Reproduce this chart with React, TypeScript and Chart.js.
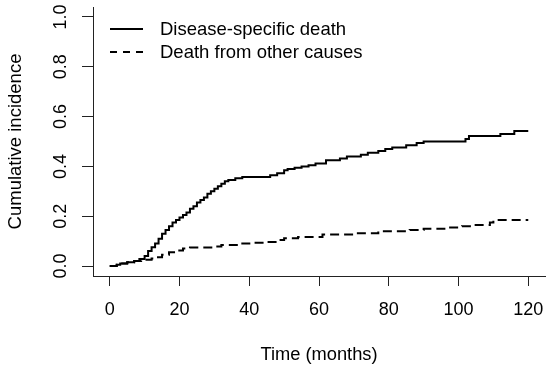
import React, { useEffect, useRef } from "react";
import { Chart, registerables } from "chart.js";

Chart.register(...registerables);

const FONT = "'Liberation Sans', Arial, Helvetica, sans-serif";

// Axis ticks
const xTicks = [0, 20, 40, 60, 80, 100, 120];
const yTicks = [0, 0.2, 0.4, 0.6, 0.8, 1.0];

// Series labels
const seriesLabels = ["Disease-specific death", "Death from other causes"];

// Disease-specific death: step times (months) and cumulative incidence
const dsTimes = [
  0, 2, 3, 5, 7, 8.5, 10, 11, 12, 13, 14, 15, 16, 17, 18, 19, 20, 21, 22, 23, 24,
  25, 26, 27, 28, 29, 30, 31, 32, 33, 34, 36, 38, 46, 48, 50, 51, 53, 55, 57, 59,
  62, 66, 68, 72, 74, 77, 79, 81, 85, 88, 90, 102, 103, 112, 116, 120,
];
const dsValues = [
  0, 0.005, 0.01, 0.015, 0.02, 0.028, 0.04, 0.06, 0.075, 0.09, 0.11, 0.13, 0.145,
  0.16, 0.175, 0.185, 0.195, 0.205, 0.215, 0.23, 0.24, 0.255, 0.265, 0.275, 0.29,
  0.3, 0.31, 0.32, 0.33, 0.34, 0.345, 0.352, 0.357, 0.365, 0.373, 0.385, 0.39,
  0.395, 0.4, 0.405, 0.412, 0.425, 0.432, 0.44, 0.447, 0.455, 0.462, 0.47, 0.476,
  0.485, 0.494, 0.5, 0.51, 0.522, 0.53, 0.542, 0.542,
];

// Death from other causes: step times (months) and cumulative incidence
const ocTimes = [
  0, 2, 3, 5, 7, 9, 12, 13, 15, 17, 19, 21, 23, 30, 32, 37, 41, 45, 48, 50, 54, 61,
  70, 77, 86, 90, 97, 101, 104, 109, 110, 120,
];
const ocValues = [
  0, 0.005, 0.01, 0.015, 0.02, 0.025, 0.03, 0.035, 0.045, 0.055, 0.062, 0.07,
  0.074, 0.078, 0.084, 0.09, 0.093, 0.097, 0.105, 0.112, 0.117, 0.127, 0.132,
  0.14, 0.145, 0.15, 0.155, 0.16, 0.165, 0.175, 0.185, 0.185,
];

const toPoints = (t: number[], v: number[]) => t.map((x, i) => ({ x, y: v[i] }));

const legendPlugin = {
  id: "rLegend",
  afterDraw(chart: any) {
    const ctx = chart.ctx;
    ctx.save();
    const rows = [
      { y: 29, dash: [] as number[] },
      { y: 52, dash: [7, 6] },
    ];
    rows.forEach((r, i) => {
      ctx.beginPath();
      ctx.setLineDash(r.dash);
      ctx.lineWidth = 2;
      ctx.strokeStyle = "#000";
      ctx.moveTo(110, r.y);
      ctx.lineTo(143, r.y);
      ctx.stroke();
      ctx.setLineDash([]);
      ctx.fillStyle = "#000";
      ctx.font = `18.5px ${FONT}`;
      ctx.textAlign = "left";
      ctx.textBaseline = "middle";
      ctx.fillText(chart.data.datasets[i].label, 160, r.y + 1);
    });
    ctx.restore();
  },
};

export default function App() {
  const ref = useRef<HTMLCanvasElement | null>(null);
  useEffect(() => {
    if (!ref.current) return;
    const chart = new Chart(ref.current, {
      type: "line",
      data: {
        datasets: [
          {
            label: seriesLabels[0],
            data: toPoints(dsTimes, dsValues),
            borderColor: "#000",
            borderWidth: 2,
            pointRadius: 0,
            stepped: true,
            fill: false,
          },
          {
            label: seriesLabels[1],
            data: toPoints(ocTimes, ocValues),
            borderColor: "#000",
            borderWidth: 2,
            borderDash: [9, 5],
            pointRadius: 0,
            stepped: true,
            fill: false,
          },
        ],
      },
      options: {
        animation: false,
        responsive: false,
        layout: { padding: { top: 7, right: 5, left: 0, bottom: 0 } },
        plugins: { legend: { display: false }, tooltip: { enabled: false } },
        scales: {
          x: {
            type: "linear",
            min: -4.8,
            max: 124.8,
            afterBuildTicks: (scale: any) => {
              scale.ticks = xTicks.map((value) => ({ value }));
            },
            afterFit: (scale: any) => {
              scale.height = 94;
              scale.paddingLeft = 0;
              scale.paddingRight = 0;
            },
            grid: {
              drawOnChartArea: false,
              drawTicks: true,
              tickLength: 10,
              tickColor: "#222",
              tickWidth: 1,
            },
            border: { display: true, color: "#222", width: 1 },
            ticks: {
              color: "#000",
              font: { family: FONT, size: 18 },
              padding: 13,
              maxRotation: 0,
              callback: (v: any) => String(v),
            },
            title: {
              display: true,
              text: "Time (months)",
              color: "#000",
              font: { family: FONT, size: 18.3 },
              padding: { top: 0, bottom: 4 },
            },
          },
          y: {
            type: "linear",
            min: -0.04,
            max: 1.04,
            afterBuildTicks: (scale: any) => {
              scale.ticks = yTicks.map((value) => ({ value }));
            },
            afterFit: (scale: any) => {
              scale.width = 93;
              scale.paddingTop = 0;
              scale.paddingBottom = 0;
            },
            grid: {
              drawOnChartArea: false,
              drawTicks: true,
              tickLength: 11,
              tickColor: "#222",
              tickWidth: 1,
            },
            border: { display: true, color: "#222", width: 1 },
            ticks: {
              color: "#000",
              font: { family: FONT, size: 18 },
              padding: 8,
              minRotation: 90,
              maxRotation: 90,
              crossAlign: "center",
              callback: (v: any) => Number(v).toFixed(1),
            },
            title: {
              display: true,
              text: "Cumulative incidence",
              color: "#000",
              font: { family: FONT, size: 18.5 },
              padding: { top: 5, bottom: 0 },
            },
          },
        },
      } as any,
      plugins: [legendPlugin],
    });
    return () => chart.destroy();
  }, []);
  return (
    <div style={{ position: "absolute", left: 0, top: 0, width: 550, height: 370, background: "#fff" }}>
      <canvas ref={ref} width={550} height={370} style={{ display: "block" }} />
    </div>
  );
}
